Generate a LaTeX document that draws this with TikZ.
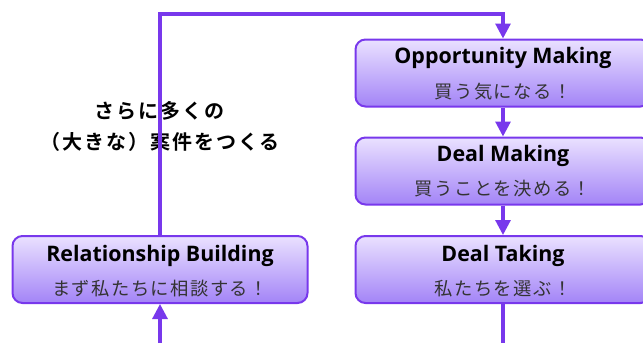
\documentclass[tikz,border=0pt]{standalone}
\usepackage{fontspec}
\setmainfont{Noto Sans}
\IfFontExistsTF{Open Sans Bold}
  {\newfontfamily\titlefont{Open Sans Bold}}
  {\newfontfamily\titlefont[FakeBold=2.5]{Noto Sans}}
\newfontfamily\jpfont[LetterSpace=8]{Noto Sans CJK JP}
\newfontfamily\jpboldfont[LetterSpace=10]{Noto Sans CJK JP Bold}
\usetikzlibrary{calc,arrows.meta}
\definecolor{vio}{RGB}{120,56,236}
\definecolor{ftop}{RGB}{234,225,255}
\definecolor{fbot}{RGB}{163,132,247}
\tikzset{
  stage/.style={draw=vio, line width=2pt, rounded corners=10pt, top color=ftop, bottom color=fbot,
    minimum width=295pt, minimum height=67pt, inner sep=0pt},
  title/.style={font=\titlefont\fontsize{21.4}{25}\selectfont, anchor=base, inner sep=0pt},
  sub/.style={font=\jpfont\fontsize{18.3}{22}\selectfont, text=black!80, anchor=base, inner sep=0pt},
  lbl/.style={font=\jpboldfont\fontsize{20}{31}\selectfont, align=center, inner sep=0pt},
  flow/.style={draw=vio, line width=3.1pt, -{Triangle[length=15pt,width=15pt]}},
  plain/.style={draw=vio, line width=3.1pt},
}
\begin{document}
\begin{tikzpicture}[x=1pt,y=-1pt]
\path[use as bounding box] (0,0) rectangle (643,343);
\node[stage] (rb) at (160,269.5) {};
\node[stage] (om) at (503,73) {};
\node[stage] (dm) at (503,171) {};
\node[stage] (dt) at (503,269.5) {};
\node[title] (rbt) at ($(rb.north)+(0,26)$) {Relationship Building};
\node[sub] (rbs) at ($(rb.north)+(0,60)$) {まず私たちに相談する！};
\node[title] (omt) at ($(om.north)+(0,25)$) {Opportunity Making};
\node[sub] (oms) at ($(om.north)+(0,60)$) {買う気になる！};
\node[title] (dmt) at ($(dm.north)+(0,25)$) {Deal Making};
\node[sub] (dms) at ($(dm.north)+(0,59)$) {買うことを決める！};
\node[title] (dtt) at ($(dt.north)+(0,26)$) {Deal Taking};
\node[sub] (dts) at ($(dt.north)+(0,60)$) {私たちを選ぶ！};
\node[lbl] (note) at (160,126.5) {さらに多くの\\（大きな）案件をつくる};
\coordinate (tl) at (160,14);
\coordinate (tr) at (503,14);
\coordinate (rbin) at (160,343);
\coordinate (dtout) at (503,343);
\draw[flow] (rb.north) -- (tl) -- (tr) -- (om.north);
\draw[flow] (om.south) -- (dm.north);
\draw[flow] (dm.south) -- (dt.north);
\draw[flow] (rbin) -- (rb.south);
\draw[plain] (dt.south) -- (dtout);
\end{tikzpicture}
\end{document}
